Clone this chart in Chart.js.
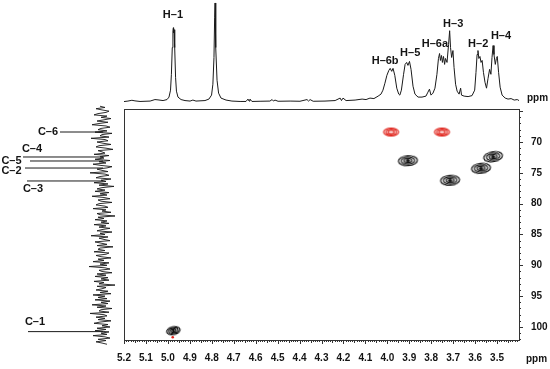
<!DOCTYPE html>
<html>
<head>
<meta charset="utf-8">
<title>HSQC</title>
<script src="https://cdn.jsdelivr.net/npm/chart.js@4.4.1/dist/chart.umd.min.js"></script>
<style>
  html, body { margin: 0; padding: 0; background: #ffffff; }
  #stage { position: relative; width: 550px; height: 369px; overflow: hidden; }
  #stage canvas { position: absolute; }
  #hsqcChart { left: 0; top: 0; }
  #protonChart { left: 124px; top: 0; }
  #carbonChart { left: 0; top: 100px; }
</style>
</head>
<body>
<div id="stage">
  <canvas id="hsqcChart" width="550" height="369"></canvas>
  <canvas id="protonChart" width="395" height="108"></canvas>
  <canvas id="carbonChart" width="124" height="250"></canvas>
</div>
<script>
// axis limits and ticks (ppm)
const protonRange = [3.4, 5.2];
const carbonRange = [64.65, 102.108];
const carbonSideRange = [63.189, 103.73];
const protonTicks = [5.2, 5.1, 5.0, 4.9, 4.8, 4.7, 4.6, 4.5, 4.4, 4.3, 4.2, 4.1, 4.0, 3.9, 3.8, 3.7, 3.6, 3.5];
const carbonTicks = [70, 75, 80, 85, 90, 95, 100];

// 1H projection (ppm, intensity)
const protonShift = [
  5.200, 5.182, 5.164, 5.150, 5.127, 5.081, 5.059, 5.045, 5.022, 5.004,
  4.995, 4.988, 4.984, 4.980, 4.977, 4.975, 4.974, 4.972, 4.969, 4.965,
  4.961, 4.954, 4.940, 4.922, 4.899, 4.886, 4.872, 4.831, 4.813, 4.801,
  4.795, 4.790, 4.787, 4.785, 4.783, 4.781, 4.776, 4.769, 4.758, 4.735,
  4.708, 4.671, 4.644, 4.635, 4.630, 4.626, 4.617, 4.580, 4.535, 4.525,
  4.519, 4.512, 4.498, 4.443, 4.398, 4.366, 4.359, 4.352, 4.338, 4.284,
  4.238, 4.215, 4.209, 4.202, 4.188, 4.147, 4.115, 4.097, 4.079, 4.061,
  4.042, 4.029, 4.020, 4.011, 4.002, 3.993, 3.987, 3.980, 3.974, 3.966,
  3.957, 3.948, 3.943, 3.936, 3.926, 3.919, 3.912, 3.906, 3.899, 3.892,
  3.883, 3.874, 3.860, 3.842, 3.824, 3.815, 3.808, 3.801, 3.792, 3.783,
  3.774, 3.767, 3.762, 3.758, 3.753, 3.749, 3.744, 3.739, 3.735, 3.728,
  3.721, 3.716, 3.712, 3.707, 3.701, 3.696, 3.689, 3.682, 3.673, 3.666,
  3.662, 3.650, 3.632, 3.614, 3.602, 3.596, 3.591, 3.587, 3.583, 3.578,
  3.573, 3.568, 3.562, 3.555, 3.548, 3.541, 3.534, 3.528, 3.523, 3.518,
  3.514, 3.508, 3.503, 3.499, 3.493, 3.486, 3.477, 3.463, 3.450, 3.436,
  3.422, 3.408, 3.400
];
const protonIntensity = [
  0.5, 1.0, 1.8, 1.2, 0.6, 1.0, 2.5, 2.2, 1.5, 2.5,
  5, 12, 28, 55, 72, 75, 70, 73, 55, 25,
  11, 5, 2.5, 1.5, 1.0, 2, 1, 1.5, 3, 7,
  18, 45, 85, 100, 90, 55, 22, 9, 4, 2,
  1, 0.6, 0.6, 3, 1, 3, 0.6, 0.8, 1, 2.5,
  1, 2, 0.8, 1, 0.8, 2.5, 1, 2.5, 0.8, 1,
  1.5, 4, 1.5, 4, 1.5, 2, 3, 2.5, 4, 3.5,
  6, 8, 12, 19, 27, 32, 34, 31, 34, 27,
  14, 8, 7, 12, 28, 38, 40, 37, 41, 33,
  16, 8, 5, 5, 6, 10, 13, 7, 9, 14,
  28, 44, 49, 42, 47, 40, 46, 38, 44, 40,
  58, 72, 55, 45, 52, 35, 18, 11, 8, 14,
  7, 6, 5.5, 6.5, 12, 30, 48, 52, 44, 46,
  40, 42, 30, 20, 14, 24, 33, 28, 45, 57,
  48, 38, 44, 46, 30, 15, 7, 4, 3, 3.5,
  2, 2.5, 1.5
];
const protonLabels = ["H–1", "H–6b", "H–5", "H–6a", "H–3", "H–2", "H–4"];
const protonLabelShift = [4.977, 4.010, 3.896, 3.783, 3.700, 3.586, 3.482];
const protonLabelHeight = [87.9, 41.4, 49.5, 59.1, 79.3, 59.1, 66.2];

// 13C projection: noise sampled from carbonStart every carbonStep ppm
const carbonStart = 64.2;
const carbonStep = 0.2;
const carbonNoise = [
  3, -2, 7, 1, -6, -3, 5, 9, -4, 2, -8, -1, 6, -5, 4, 11, -3, -7, 2, 5,
  -4, 8, -9, 1, 3, -6, 12, -2, -5, 6, 0, -8, 4, 7, -3, -10, 5, 1, -2, 9,
  -6, 3, -1, 8, -7, 4, -3, 10, 2, -9, -4, 6, 1, -5, 13, -2, -6, 3, 7, -8,
  2, -3, 9, -5, 4, -11, 1, 6, -2, 8, -6, 3, -4, 11, -1, -7, 5, 2, -9, 4,
  7, -2, -5, 10, -3, 1, -8, 6, 3, -12, 5, -1, 8, -4, 2, -6, 9, -3, 4, -7,
  1, 6, -9, 3, -2, 12, -5, 4, -1, -7, 8, 2, -4, 6, -10, 3, 5, -2, 9, -6,
  -3, 7, 2, -8, 5, -1, 10, -6, 3, -4, 14, -2, -7, 4, 1, -9, 6, -3, 8, -5,
  2, -6, 9, -1, 4, -12, 6, -3, 1, 7, -5, 3, -8, 10, -2, 5, -4, 8, -7, 2,
  -5, 11, -3, 6, -9, 2, 4, -6, 13, -1, -4, 7, -2, 5, -8, 3, 9, -5, 1, -7,
  6, -3, 8, -6, 2, -4, 10, -2, -7, 5, -3, 7, 1, -4
];
const carbonPeakShift = [68.38, 72.43, 73.08, 74.22, 76.32, 100.75];
const carbonPeakHeight = [43, 80, 73, 78, 76, 75];
const carbonLabels = ["C–6", "C–4", "C–5", "C–2", "C–3", "C–1"];
const carbonLabelShift = [68.38, 71.14, 73.08, 74.62, 77.62, 99.19];
const carbonLabelHeight = [55, 71, 91.5, 91.5, 70, 68];

// HSQC cross peaks (1H ppm, 13C ppm)
const crossH = [4.975, 3.906, 3.714, 3.573, 3.518];
const crossC = [100.60, 73.03, 76.21, 74.26, 72.38];
const crossRedH = [3.983, 3.751];
const crossRedC = [68.38, 68.38];
const artefactH = [4.978];
const artefactC = [101.67];

const FONT_FAMILY = '"Liberation Sans", Arial, sans-serif';
const INK = "#141414";

function contourImage(color, rx, ry, rings, filled) {
  const c = document.createElement("canvas");
  const size = Math.ceil(rx * 2 + 4);
  c.width = size;
  c.height = size;
  const g = c.getContext("2d");
  g.strokeStyle = color;
  g.lineWidth = 1.2;
  for (let i = 0; i < rings; i++) {
    const k = 1 - i / (rings + 0.4);
    g.beginPath();
    g.ellipse(size / 2, size / 2, rx * k, ry * k, 0, 0, Math.PI * 2);
    g.stroke();
  }
  if (filled) {
    g.fillStyle = color;
    g.beginPath();
    g.ellipse(size / 2, size / 2, rx * 0.22, ry * 0.3, 0, 0, Math.PI * 2);
    g.fill();
  }
  return c;
}

const blackContour = contourImage("#111111", 9.5, 5, 3, true);
const anomericContour = contourImage("#111111", 6.8, 4, 3, true);
const redContour = contourImage("#e0241c", 7.5, 4, 3, false);

const frameAndTicks = {
  id: "frameAndTicks",
  afterDraw(chart) {
    const { ctx, chartArea: a } = chart;
    const x = chart.scales.x;
    const y = chart.scales.y;
    ctx.save();
    ctx.strokeStyle = "#333333";
    ctx.lineWidth = 1;
    ctx.strokeRect(Math.round(a.left) + 0.5, Math.round(a.top) + 0.5,
      Math.round(a.right - a.left), Math.round(a.bottom - a.top));
    ctx.beginPath();
    for (let k = 341; k <= 520; k++) {
      const px = Math.round(x.getPixelForValue(k / 100)) + 0.5;
      if (px < a.left || px > a.right + 1) continue;
      const len = k % 10 === 0 ? 4 : (k % 5 === 0 ? 3 : 2);
      ctx.moveTo(px, a.bottom);
      ctx.lineTo(px, a.bottom + len);
    }
    for (let k = 65; k <= 102; k++) {
      const py = Math.round(y.getPixelForValue(k)) + 0.5;
      const len = k % 5 === 0 ? 4 : 2;
      ctx.moveTo(a.right, py);
      ctx.lineTo(a.right + len, py);
    }
    ctx.stroke();
    ctx.fillStyle = INK;
    ctx.font = "bold 10px " + FONT_FAMILY;
    ctx.textAlign = "left";
    ctx.textBaseline = "alphabetic";
    ctx.fillText("ppm", 526, 362);
    ctx.fillText("ppm", 527, 101);
    ctx.restore();
  }
};

function textLabels(texts, xs, ys) {
  return {
    id: "textLabels",
    afterDraw(chart) {
      const { ctx } = chart;
      ctx.save();
      ctx.fillStyle = INK;
      ctx.font = "bold 11px " + FONT_FAMILY;
      ctx.textAlign = "center";
      ctx.textBaseline = "middle";
      texts.forEach((t, i) => {
        ctx.fillText(t, chart.scales.x.getPixelForValue(xs[i]), chart.scales.y.getPixelForValue(ys[i]));
      });
      ctx.restore();
    }
  };
}

const tickFont = { family: FONT_FAMILY, size: 10, weight: "bold" };

new Chart(document.getElementById("hsqcChart"), {
  type: "scatter",
  data: {
    datasets: [
      {
        data: crossH.map((h, i) => ({ x: h, y: crossC[i] })),
        pointStyle: [anomericContour, blackContour, blackContour, blackContour, blackContour],
        rotation: [-12, -4, -4, -6, -10],
        pointRadius: 8
      },
      {
        data: crossRedH.map((h, i) => ({ x: h, y: crossRedC[i] })),
        pointStyle: redContour,
        pointRadius: 7
      },
      {
        data: artefactH.map((h, i) => ({ x: h, y: artefactC[i] })),
        pointStyle: "circle",
        pointRadius: 1.3,
        backgroundColor: "#e0241c",
        borderWidth: 0
      }
    ]
  },
  options: {
    responsive: false,
    animation: false,
    devicePixelRatio: 1,
    layout: { padding: { left: 124, top: 109, right: 0, bottom: 0 } },
    plugins: { legend: { display: false }, tooltip: { enabled: false } },
    scales: {
      x: {
        type: "linear",
        reverse: true,
        min: protonRange[0],
        max: protonRange[1],
        position: "bottom",
        grid: { display: false, drawTicks: false },
        border: { display: false },
        ticks: {
          font: tickFont,
          color: INK,
          padding: 12,
          maxRotation: 0,
          autoSkip: false,
          callback: v => Number(v).toFixed(1)
        },
        afterBuildTicks: s => { s.ticks = protonTicks.map(v => ({ value: v })); },
        afterFit: s => { s.height = 29; }
      },
      y: {
        type: "linear",
        reverse: true,
        min: carbonRange[0],
        max: carbonRange[1],
        position: "right",
        grid: { display: false, drawTicks: false },
        border: { display: false },
        ticks: {
          font: tickFont,
          color: INK,
          padding: 12,
          autoSkip: false,
          callback: v => String(v)
        },
        afterBuildTicks: s => { s.ticks = carbonTicks.map(v => ({ value: v })); },
        afterFit: s => { s.width = 31; }
      }
    }
  },
  plugins: [frameAndTicks]
});

new Chart(document.getElementById("protonChart"), {
  type: "scatter",
  data: {
    datasets: [{
      data: protonShift.map((s, i) => ({ x: s, y: protonIntensity[i] })),
      showLine: true,
      borderColor: "#1a1a1a",
      borderWidth: 1,
      pointRadius: 0,
      tension: 0
    }]
  },
  options: {
    responsive: false,
    animation: false,
    devicePixelRatio: 1,
    layout: { padding: 0 },
    plugins: { legend: { display: false }, tooltip: { enabled: false } },
    scales: {
      x: { type: "linear", display: false, reverse: true, min: protonRange[0], max: protonRange[1] },
      y: { type: "linear", display: false, min: -6, max: 103 }
    }
  },
  plugins: [textLabels(protonLabels, protonLabelShift, protonLabelHeight)]
});

const carbonDatasets = [{
  data: carbonNoise.map((v, i) => ({ x: v, y: carbonStart + i * carbonStep })),
  showLine: true,
  borderColor: "#1a1a1a",
  borderWidth: 0.9,
  pointRadius: 0,
  tension: 0
}];
carbonPeakShift.forEach((s, i) => {
  carbonDatasets.push({
    data: [{ x: 0, y: s }, { x: carbonPeakHeight[i], y: s }],
    showLine: true,
    borderColor: "#1a1a1a",
    borderWidth: 1,
    pointRadius: 0
  });
});

new Chart(document.getElementById("carbonChart"), {
  type: "scatter",
  data: { datasets: carbonDatasets },
  options: {
    responsive: false,
    animation: false,
    devicePixelRatio: 1,
    layout: { padding: 0 },
    plugins: { legend: { display: false }, tooltip: { enabled: false } },
    scales: {
      x: { type: "linear", display: false, reverse: true, min: -21, max: 103 },
      y: { type: "linear", display: false, reverse: true, min: carbonSideRange[0], max: carbonSideRange[1] }
    }
  },
  plugins: [textLabels(carbonLabels, carbonLabelHeight, carbonLabelShift)]
});
</script>
</body>
</html>
